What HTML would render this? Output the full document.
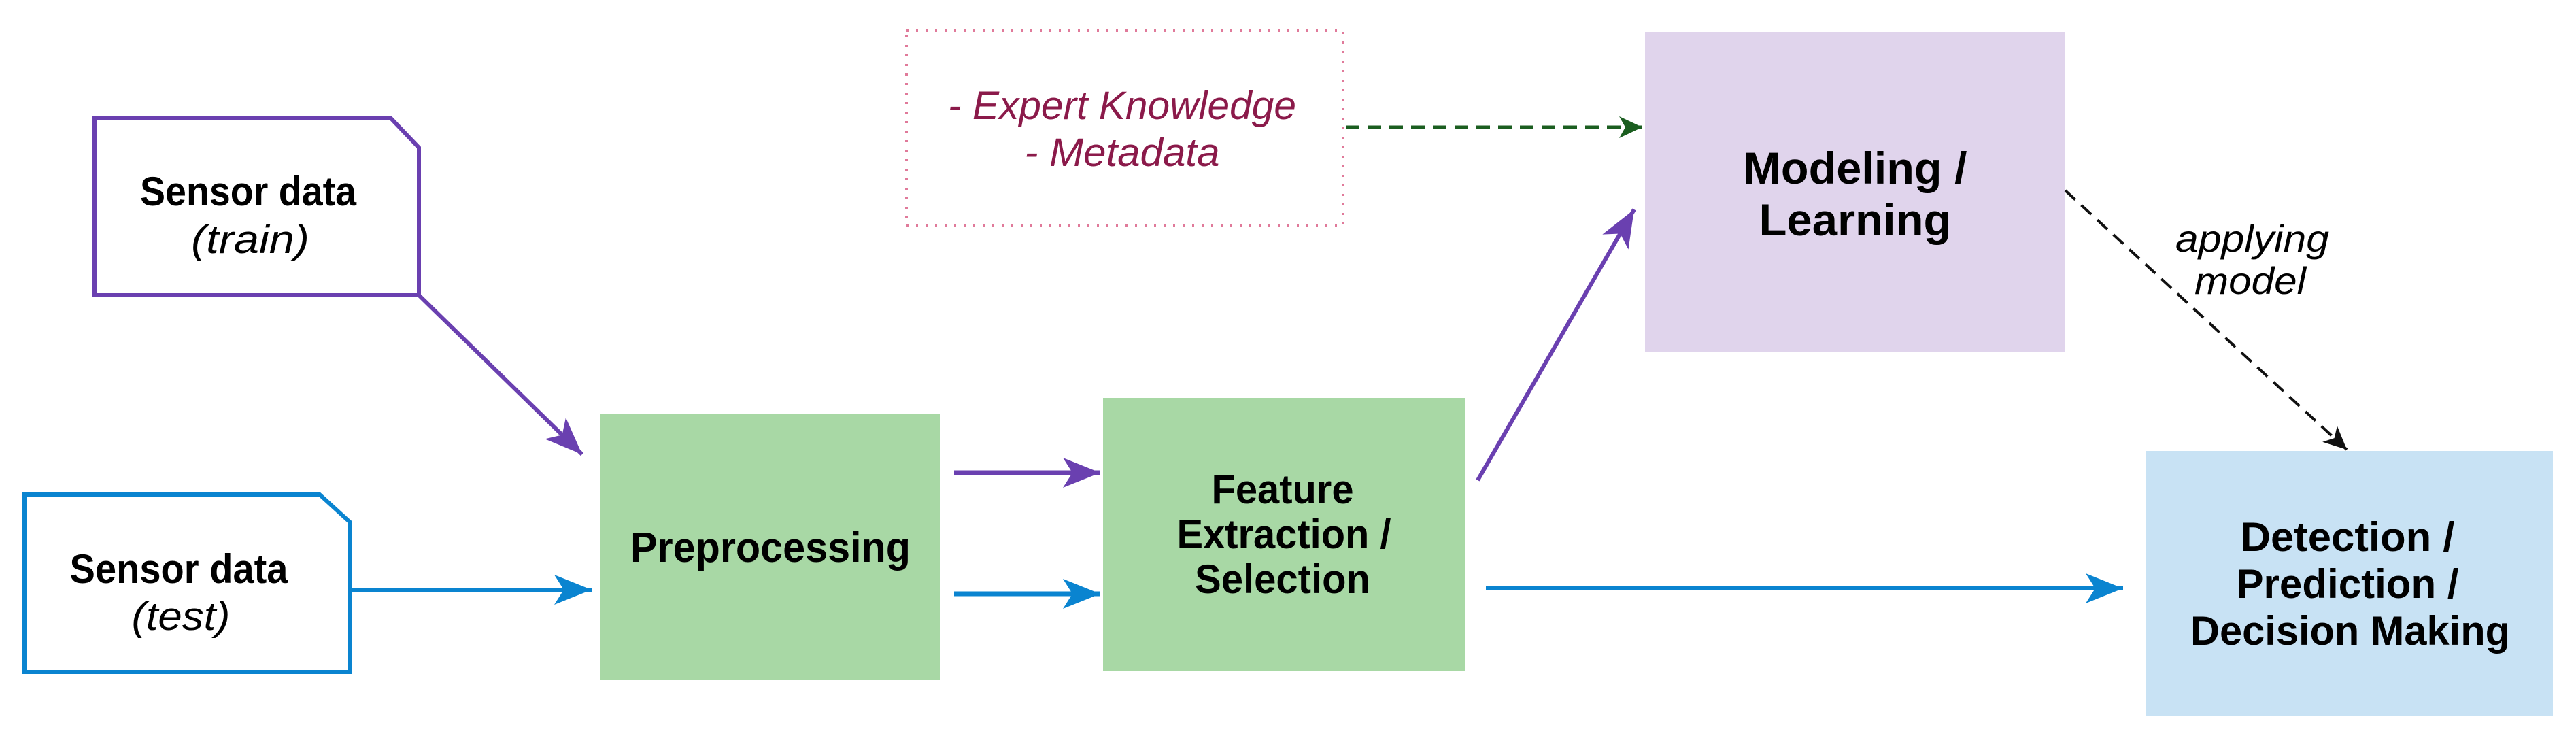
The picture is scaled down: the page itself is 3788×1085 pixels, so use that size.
<!DOCTYPE html>
<html><head><meta charset="utf-8"><style>
html,body{margin:0;padding:0;background:#fff;}
svg{display:block;}
</style></head><body>
<svg width="3788" height="1085" viewBox="0 0 3788 1085" xmlns="http://www.w3.org/2000/svg">
<defs>
<marker id="hp" markerUnits="userSpaceOnUse" markerWidth="60" markerHeight="50" refX="55" refY="22" orient="auto"><path d="M0,0 L55,22 L0,44 L14,22 Z" fill="#6a40b0"/></marker>
<marker id="hb" markerUnits="userSpaceOnUse" markerWidth="60" markerHeight="50" refX="55" refY="22" orient="auto"><path d="M0,0 L55,22 L0,44 L14,22 Z" fill="#0a84d0"/></marker>
<marker id="hg" markerUnits="userSpaceOnUse" markerWidth="40" markerHeight="40" refX="34" refY="16" orient="auto"><path d="M0,0 L34,16 L0,32 L9,16 Z" fill="#1b5e20"/></marker>
<marker id="hk" markerUnits="userSpaceOnUse" markerWidth="40" markerHeight="40" refX="34" refY="16" orient="auto"><path d="M0,0 L34,16 L0,32 L9,16 Z" fill="#111"/></marker>
</defs>
<rect x="882" y="609" width="500" height="390" fill="#a8d8a5"/>
<rect x="1622" y="585" width="533" height="401" fill="#a8d8a5"/>
<rect x="2419" y="47" width="618" height="471" fill="#e0d4ec"/>
<rect x="3155" y="663" width="599" height="389" fill="#c8e2f4"/>
<rect x="1333" y="45" width="642" height="287" fill="none" stroke="#e07a9a" stroke-width="4" stroke-dasharray="3,11"/>
<path d="M139,173 L574,173 L616,217 L616,434 L139,434 Z" fill="#fff" stroke="#6a40b0" stroke-width="6"/>
<path d="M36,727 L470,727 L515,768 L515,988 L36,988 Z" fill="#fff" stroke="#0a84d0" stroke-width="6"/>
<line x1="616" y1="434" x2="856" y2="668" stroke="#6a40b0" stroke-width="6" marker-end="url(#hp)"/>
<line x1="515" y1="867" x2="870" y2="867" stroke="#0a84d0" stroke-width="6" marker-end="url(#hb)"/>
<line x1="1403" y1="695" x2="1618" y2="695" stroke="#6a40b0" stroke-width="7" marker-end="url(#hp)"/>
<line x1="1403" y1="873" x2="1618" y2="873" stroke="#0a84d0" stroke-width="7" marker-end="url(#hb)"/>
<line x1="2173" y1="706" x2="2403" y2="308" stroke="#6a40b0" stroke-width="6" marker-end="url(#hp)"/>
<line x1="2185" y1="865" x2="3122" y2="865" stroke="#0a84d0" stroke-width="6" marker-end="url(#hb)"/>
<line x1="1979" y1="187" x2="2415" y2="187" stroke="#1b5e20" stroke-width="5" stroke-dasharray="20,12" marker-end="url(#hg)"/>
<line x1="3037" y1="280" x2="3451" y2="661" stroke="#111" stroke-width="4" stroke-dasharray="20,12" marker-end="url(#hk)"/>
<g font-family="Liberation Sans, sans-serif" text-anchor="middle" lengthAdjust="spacingAndGlyphs">
<text x="365" y="302" font-size="60" font-weight="bold" textLength="318" lengthAdjust="spacingAndGlyphs">Sensor data</text>
<text x="368" y="372" font-size="58" font-style="italic" textLength="174" lengthAdjust="spacingAndGlyphs">(train)</text>
<text x="263" y="857" font-size="60" font-weight="bold" textLength="321" lengthAdjust="spacingAndGlyphs">Sensor data</text>
<text x="266" y="926" font-size="58" font-style="italic" textLength="145" lengthAdjust="spacingAndGlyphs">(test)</text>
<text x="1650" y="175" font-size="58" font-style="italic" fill="#8b1a4a" textLength="512" lengthAdjust="spacingAndGlyphs">- Expert Knowledge</text>
<text x="1650" y="244" font-size="58" font-style="italic" fill="#8b1a4a" textLength="287" lengthAdjust="spacingAndGlyphs">- Metadata</text>
<text x="1133" y="826" font-size="62" font-weight="bold" textLength="412" lengthAdjust="spacingAndGlyphs">Preprocessing</text>
<text x="1886" y="740" font-size="60" font-weight="bold" textLength="209" lengthAdjust="spacingAndGlyphs">Feature</text>
<text x="1888" y="806" font-size="60" font-weight="bold" textLength="315" lengthAdjust="spacingAndGlyphs">Extraction /</text>
<text x="1886" y="872" font-size="60" font-weight="bold" textLength="258" lengthAdjust="spacingAndGlyphs">Selection</text>
<text x="2728" y="270" font-size="66" font-weight="bold" textLength="329" lengthAdjust="spacingAndGlyphs">Modeling /</text>
<text x="2728" y="346" font-size="66" font-weight="bold" textLength="283" lengthAdjust="spacingAndGlyphs">Learning</text>
<text x="3312" y="370" font-size="56" font-style="italic" textLength="226" lengthAdjust="spacingAndGlyphs">applying</text>
<text x="3309" y="432" font-size="56" font-style="italic" textLength="164" lengthAdjust="spacingAndGlyphs">model</text>
<text x="3452" y="810" font-size="60" font-weight="bold" textLength="315" lengthAdjust="spacingAndGlyphs">Detection /</text>
<text x="3452" y="879" font-size="60" font-weight="bold" textLength="327" lengthAdjust="spacingAndGlyphs">Prediction /</text>
<text x="3456" y="948" font-size="60" font-weight="bold" textLength="470" lengthAdjust="spacingAndGlyphs">Decision Making</text>
</g>
</svg>
</body></html>
